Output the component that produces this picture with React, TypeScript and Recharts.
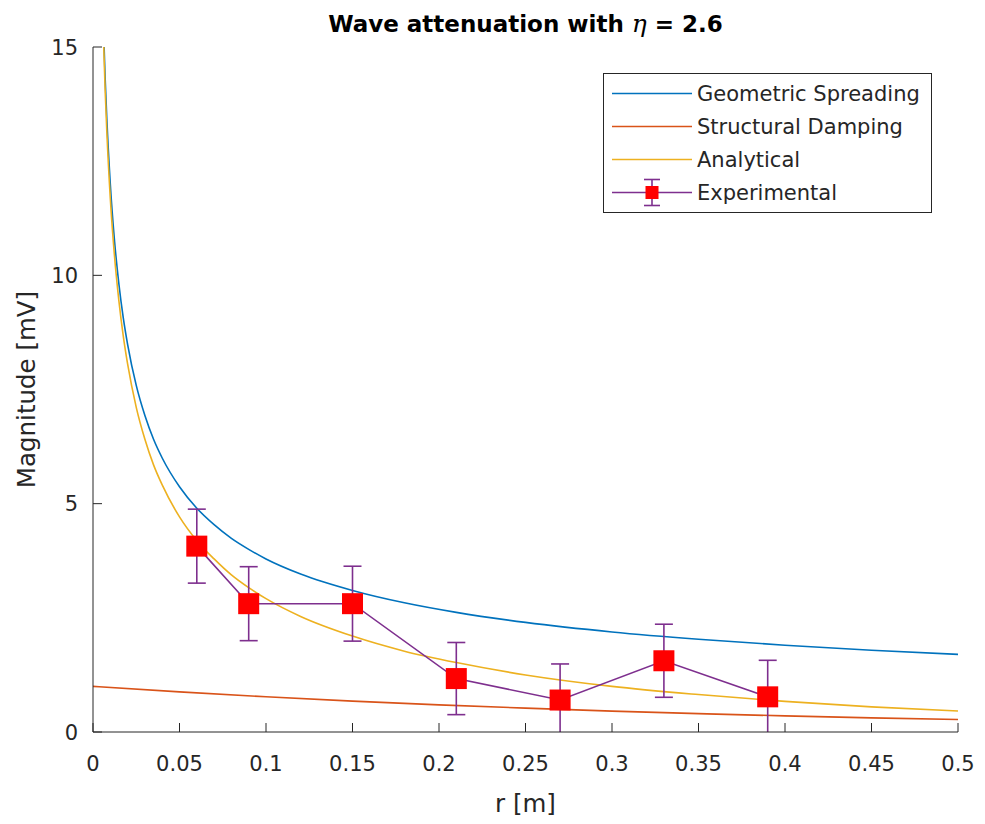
import { ErrorBar, Legend, Line, LineChart, XAxis, YAxis } from 'recharts';

// r [m] sample positions for the two 1/sqrt(r) type curves
const curveR = [
  0.005, 0.006, 0.007, 0.008, 0.01, 0.0125, 0.015, 0.0175, 0.02, 0.025, 0.03, 0.035, 0.04, 0.05,
  0.06, 0.07, 0.08, 0.09, 0.1, 0.12, 0.15, 0.18, 0.21, 0.25, 0.3, 0.35, 0.4, 0.45, 0.5,
];
const geometricSpreading = [
  16.97, 15.49, 14.34, 13.42, 12.0, 10.73, 9.8, 9.07, 8.49, 7.59, 6.93, 6.41, 6.0, 5.37, 4.9, 4.54,
  4.24, 4.0, 3.79, 3.46, 3.1, 2.83, 2.62, 2.4, 2.19, 2.03, 1.9, 1.79, 1.7,
];
const analytical = [
  16.75, 15.25, 14.08, 13.14, 11.69, 10.39, 9.43, 8.67, 8.06, 7.11, 6.41, 5.85, 5.41, 4.71, 4.19,
  3.79, 3.44, 3.16, 2.92, 2.53, 2.1, 1.77, 1.52, 1.25, 1.0, 0.82, 0.67, 0.55, 0.46,
];

const dampingR = [0, 0.05, 0.1, 0.15, 0.2, 0.25, 0.3, 0.35, 0.4, 0.45, 0.5];
const structuralDamping = [1.0, 0.878, 0.771, 0.677, 0.595, 0.522, 0.458, 0.403, 0.353, 0.31, 0.273];

const experimentalR = [0.06, 0.09, 0.15, 0.21, 0.27, 0.33, 0.39];
const experimentalMagnitude = [4.07, 2.81, 2.81, 1.17, 0.7, 1.56, 0.77];
const experimentalError = [0.81, 0.81, 0.82, 0.79, 0.79, 0.8, 0.8];

const seriesNames = ['Geometric Spreading', 'Structural Damping', 'Analytical', 'Experimental'];

const xTicks = [0, 0.05, 0.1, 0.15, 0.2, 0.25, 0.3, 0.35, 0.4, 0.45, 0.5];
const yTicks = [0, 5, 10, 15];

const geometricData = curveR.map((r, i) => ({ r, v: geometricSpreading[i] }));
const analyticalData = curveR.map((r, i) => ({ r, v: analytical[i] }));
const dampingData = dampingR.map((r, i) => ({ r, v: structuralDamping[i] }));
const experimentalData = experimentalR.map((r, i) => ({
  r,
  v: experimentalMagnitude[i],
  err: experimentalError[i],
}));

const FONT = '"DejaVu Sans", "Liberation Sans", Arial, sans-serif';
const AXIS = '#262626';
const BLUE = '#0072BD';
const ORANGE = '#D95319';
const YELLOW = '#EDB120';
const PURPLE = '#7E2F8E';
const RED = '#FF0000';
const TICK_LEN = 9;

// plot box (chart margins + axis sizes), used to clip the error bars like MATLAB does
const PLOT = { x: 93, y: 47, w: 865, h: 685 };

const textStyle = { fontFamily: FONT, fontSize: 21, fill: AXIS };

function BottomTick({ x, y, payload }: any) {
  return (
    <g>
      <line x1={x} x2={x} y1={y} y2={y - TICK_LEN} stroke={AXIS} />
      <text x={x} y={y + 39} textAnchor="middle" style={textStyle}>
        {String(payload.value)}
      </text>
    </g>
  );
}

function TopTick({ x, y }: any) {
  return <line x1={x} x2={x} y1={y} y2={y + TICK_LEN} stroke={AXIS} />;
}

function LeftTick({ x, y, payload }: any) {
  return (
    <g>
      <line x1={x} x2={x + TICK_LEN} y1={y} y2={y} stroke={AXIS} />
      <text x={x - 15} y={y} dy="0.36em" textAnchor="end" style={textStyle}>
        {String(payload.value)}
      </text>
    </g>
  );
}

function RightTick({ x, y }: any) {
  return <line x1={x} x2={x - TICK_LEN} y1={y} y2={y} stroke={AXIS} />;
}

function SquareDot({ cx, cy, index }: any) {
  return <rect key={`sq-${index}`} x={cx - 10.5} y={cy - 10.5} width={21} height={21} fill={RED} />;
}

function LegendIcon({ name, color }: { name: string; color: string }) {
  return (
    <svg width={93} height={33} style={{ display: 'block', flex: 'none' }}>
      <line x1={8} x2={88} y1={16.5} y2={16.5} stroke={color} strokeWidth={1.6} />
      {name === 'Experimental' && (
        <g stroke={PURPLE} strokeWidth={1.6}>
          <line x1={48} x2={48} y1={3.5} y2={29.5} />
          <line x1={40} x2={56} y1={3.5} y2={3.5} />
          <line x1={40} x2={56} y1={29.5} y2={29.5} />
          <rect x={41.5} y={10} width={13} height={13} fill={RED} stroke="none" />
        </g>
      )}
    </svg>
  );
}

function LegendBox({ payload }: any) {
  const items = [...(payload ?? [])].sort(
    (a: any, b: any) => seriesNames.indexOf(a.value) - seriesNames.indexOf(b.value),
  );
  return (
    <div
      style={{
        width: 329,
        height: 140,
        boxSizing: 'border-box',
        border: `1px solid ${AXIS}`,
        background: '#fff',
        paddingTop: 3,
        fontFamily: FONT,
        fontSize: 21,
        color: AXIS,
      }}
    >
      {items.map((entry: any) => (
        <div key={entry.value} style={{ display: 'flex', alignItems: 'center', height: 33 }}>
          <LegendIcon name={entry.value} color={entry.color} />
          <span style={{ whiteSpace: 'nowrap' }}>{entry.value}</span>
        </div>
      ))}
    </div>
  );
}

export default function App() {
  return (
    <div style={{ position: 'absolute', left: 0, top: 0, width: 985, height: 824, background: '#fff' }}>
      <style>{'.recharts-errorBars { clip-path: url(#plotClip); }'}</style>
      <svg width={0} height={0} style={{ position: 'absolute' }}>
        <defs>
          <clipPath id="plotClip" clipPathUnits="userSpaceOnUse">
            <rect x={PLOT.x} y={PLOT.y} width={PLOT.w} height={PLOT.h} />
          </clipPath>
        </defs>
      </svg>
      <div
        style={{
          position: 'absolute',
          top: 12,
          left: 93,
          width: 865,
          textAlign: 'center',
          fontFamily: FONT,
          fontWeight: 'bold',
          fontSize: 23,
          lineHeight: '23px',
          color: '#000',
          zIndex: 2,
        }}
      >
        Wave attenuation with{' '}
        <span style={{ fontFamily: '"DejaVu Serif", serif', fontStyle: 'italic', fontWeight: 'normal', fontSize: 25 }}>
          η
        </span>{' '}
        = 2.6
      </div>
      <LineChart
        width={985}
        height={824}
        margin={{ top: PLOT.y, right: 985 - PLOT.x - PLOT.w, bottom: 0, left: 0 }}
        style={{ fontFamily: FONT }}
      >
        <XAxis
          dataKey="r"
          type="number"
          domain={[0, 0.5]}
          ticks={xTicks}
          allowDataOverflow
          height={824 - PLOT.y - PLOT.h}
          tickSize={0}
          tickMargin={0}
          tickLine={false}
          tick={<BottomTick />}
          interval={0}
          axisLine={{ stroke: AXIS }}
          label={(props: any) => {
            const vb = props.viewBox;
            return (
              <text x={vb.x + vb.width / 2} y={vb.y + 80} textAnchor="middle" fill={AXIS} fontFamily={FONT} fontSize={24.5}>
                r [m]
              </text>
            );
          }}
        />
        <XAxis
          xAxisId="top"
          orientation="top"
          dataKey="r"
          type="number"
          domain={[0, 0.5]}
          ticks={xTicks}
          allowDataOverflow
          height={0}
          tickSize={0}
          tickMargin={0}
          tickLine={false}
          tick={<TopTick />}
          interval={0}
          axisLine={{ stroke: AXIS }}
        />
        <YAxis
          type="number"
          domain={[0, 15]}
          ticks={yTicks}
          allowDataOverflow
          width={PLOT.x}
          tickSize={0}
          tickMargin={0}
          tickLine={false}
          tick={<LeftTick />}
          interval={0}
          axisLine={{ stroke: AXIS }}
          label={(props: any) => {
            const vb = props.viewBox;
            const cx = 35;
            const cy = vb.y + vb.height / 2;
            return (
              <text
                x={cx}
                y={cy}
                transform={`rotate(-90 ${cx} ${cy})`}
                textAnchor="middle"
                fill={AXIS}
                fontFamily={FONT}
                fontSize={24.5}
              >
                Magnitude [mV]
              </text>
            );
          }}
        />
        <YAxis
          yAxisId="right"
          orientation="right"
          type="number"
          domain={[0, 15]}
          ticks={yTicks}
          allowDataOverflow
          width={0}
          tickSize={0}
          tickMargin={0}
          tickLine={false}
          tick={<RightTick />}
          interval={0}
          axisLine={{ stroke: AXIS }}
        />
        <Legend
          layout="vertical"
          align="center"
          verticalAlign="middle"
          content={<LegendBox />}
          wrapperStyle={{ left: 603, top: 73, width: 329, height: 140 }}
        />
        <Line
          data={geometricData}
          dataKey="v"
          name={seriesNames[0]}
          type="monotone"
          stroke={BLUE}
          strokeWidth={1.6}
          dot={false}
          activeDot={false}
          isAnimationActive={false}
        />
        <Line
          data={dampingData}
          dataKey="v"
          name={seriesNames[1]}
          type="monotone"
          stroke={ORANGE}
          strokeWidth={1.6}
          dot={false}
          activeDot={false}
          isAnimationActive={false}
        />
        <Line
          data={analyticalData}
          dataKey="v"
          name={seriesNames[2]}
          type="monotone"
          stroke={YELLOW}
          strokeWidth={1.6}
          dot={false}
          activeDot={false}
          isAnimationActive={false}
        />
        <Line
          data={experimentalData}
          dataKey="v"
          name={seriesNames[3]}
          type="linear"
          stroke={PURPLE}
          strokeWidth={1.6}
          dot={<SquareDot />}
          activeDot={false}
          isAnimationActive={false}
        >
          <ErrorBar dataKey="err" direction="y" width={9} stroke={PURPLE} strokeWidth={1.6} />
        </Line>
      </LineChart>
    </div>
  );
}
